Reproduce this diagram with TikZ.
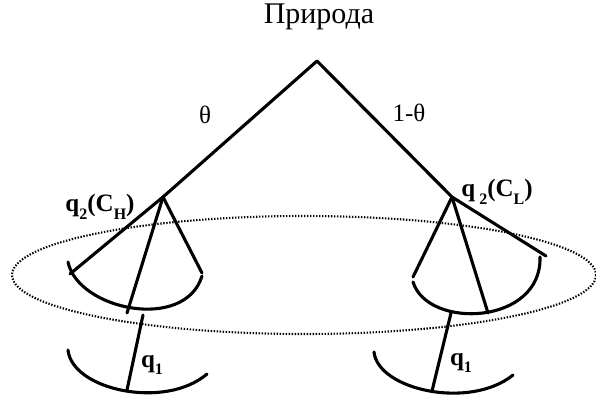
\documentclass[tikz,border=0pt]{standalone}
\usepackage{fontspec}
\setmainfont{Liberation Serif}
\newcommand{\mysub}[1]{\raisebox{-0.3em}{\fontsize{16}{16}\selectfont #1}}
\begin{document}
\begin{tikzpicture}[x=1pt,y=-1pt,
  branch/.style={line width=3.1pt,line cap=round,line join=round},
  lbl/.style={inner sep=0pt,font=\fontsize{25}{25}\selectfont},
  qlbl/.style={inner sep=0pt,font=\fontsize{25}{25}\selectfont\bfseries},
  infoset/.style={line width=2.1pt,dash pattern=on 1.4pt off 1.6pt}]
\useasboundingbox (0,0) rectangle (596,398);
% nodes
\coordinate (root) at (317,61);
\coordinate (L) at (163,197);
\coordinate (R) at (452,197);
\coordinate (La) at (70,274);
\coordinate (Lb) at (127,313);
\coordinate (Lc) at (202,273);
\coordinate (Ra) at (413,277);
\coordinate (Rb) at (488,313);
\coordinate (Rc) at (546,256);
\coordinate (Ld) at (143,315);
\coordinate (Le) at (127,390);
\coordinate (Rd) at (451,313);
\coordinate (Re) at (432,391);
% labels
\node[inner sep=0pt,font=\fontsize{30}{30}\selectfont] (nature) at (319,17) {Природа};
\node[lbl] (theta) at (205,115) {θ};
\node[lbl] (onetheta) at (409,113) {1-θ};
\node[qlbl] (q2h) at (100,207) {q\mysub{2}(C\mysub{H})};
\node[qlbl] (q2l) at (497,192) {q\,\mysub{2}(C\mysub{L})};
\node[qlbl] (q1l) at (152,365) {q\mysub{1}};
\node[qlbl] (q1r) at (461,363) {q\mysub{1}};
% information set
\draw[infoset] (304,275) ellipse [x radius=292, y radius=59];
% tree
\draw[branch] (La) -- (L) -- (root) -- (R) -- (Rc);
\draw[branch] (L) -- (Lb);
\draw[branch] (L) -- (Lc);
\draw[branch] (R) -- (Ra);
\draw[branch] (R) -- (Rb);
% arcs
\draw[branch] (68,262) .. controls (78,310) and (185,332) .. (202,276);
\draw[branch] (413,282) .. controls (428,330) and (542,325) .. (540,257);
\draw[branch] (68,350) .. controls (72,390) and (165,410) .. (207,374);
\draw[branch] (374,352) .. controls (378,390) and (470,410) .. (513,375);
% q1 moves
\draw[branch] (Ld) -- (Le);
\draw[branch] (Rd) -- (Re);
\end{tikzpicture}
\end{document}
